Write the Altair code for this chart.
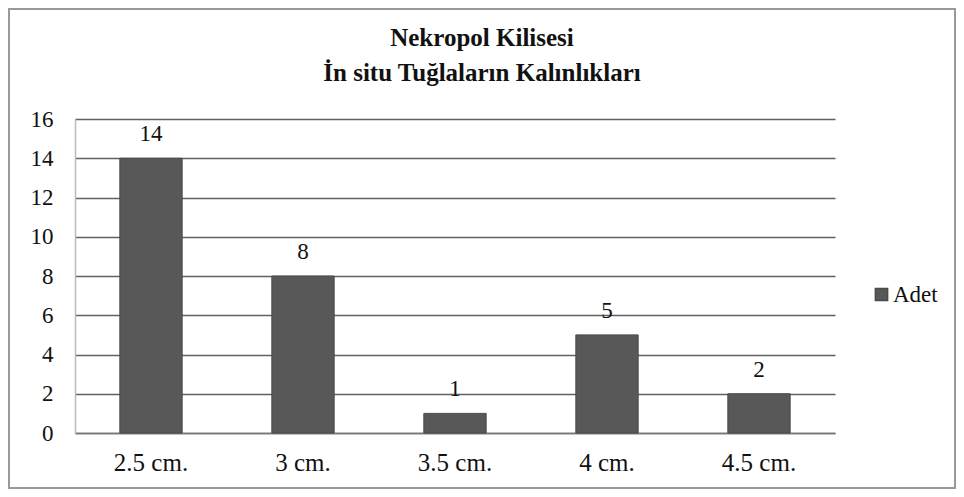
import altair as alt
import pandas as pd

categories = ["2.5 cm.", "3 cm.", "3.5 cm.", "4 cm.", "4.5 cm."]
values = [14, 8, 1, 5, 2]
series = "Adet"
title_lines = ["Nekropol Kilisesi", "İn situ Tuğlaların Kalınlıkları"]
y_ticks = [0, 2, 4, 6, 8, 10, 12, 14, 16]

df = pd.DataFrame({"cat": categories, "val": values, "series": [series] * len(values)})

FONT = "'Liberation Serif', 'Times New Roman', Times, serif"
W, H = 760, 314
FS = 23

x_enc = alt.X("cat:N", sort=categories, title=None,
              scale=alt.Scale(paddingInner=0.59, paddingOuter=0.295),
              axis=alt.Axis(labelAngle=0, labelFont=FONT, labelFontSize=25, labelColor="#111",
                            labelPadding=17, ticks=False, domainColor="#777", domainWidth=1.5))
y_enc = alt.Y("val:Q", title=None,
              scale=alt.Scale(domain=[0, 16], nice=False),
              axis=alt.Axis(values=y_ticks, tickCount=9, labelFont=FONT, labelFontSize=FS,
                            labelColor="#111", labelPadding=22, ticks=False, labelOverlap=False,
                            domainColor="#bbb", domainWidth=1.5,
                            grid=True, gridColor="#606060", gridWidth=1.5))

base = alt.Chart(df)

bars = base.mark_bar(color="#585858", stroke="#4a4a4a", strokeWidth=1).encode(
    x=x_enc,
    y=y_enc,
    color=alt.Color("series:N", title=None,
                    scale=alt.Scale(range=["#585858"]),
                    legend=alt.Legend(orient="none", legendX=795, legendY=164,
                                      symbolType="square", symbolSize=150,
                                      labelFont=FONT, labelFontSize=FS, labelColor="#111",
                                      labelOffset=0)),
)

labels = base.mark_text(font=FONT, fontSize=FS, color="#111", baseline="alphabetic", dy=-17).encode(
    x=x_enc,
    y=y_enc,
    text=alt.Text("val:Q"),
)

border = alt.Chart(df).mark_rect(fill=None, stroke="#999", strokeWidth=1.5, clip=False).encode(
    x=alt.value(-66), x2=alt.value(880), y=alt.value(-110), y2=alt.value(369)
)

chart = alt.layer(border, bars, labels).properties(
    width=W, height=H,
    autosize=alt.AutoSizeParams(type="none"),
    padding={"left": 67, "top": 111, "right": 121, "bottom": 56},
    title=alt.Title(title_lines, font=FONT, fontSize=25, fontWeight="bold", color="#111",
                    anchor="middle", frame="group", dx=27, offset=-78, lineHeight=35),
).configure_view(stroke=None)

chart.save("out.html", embed_options={"renderer": "svg", "actions": False})
